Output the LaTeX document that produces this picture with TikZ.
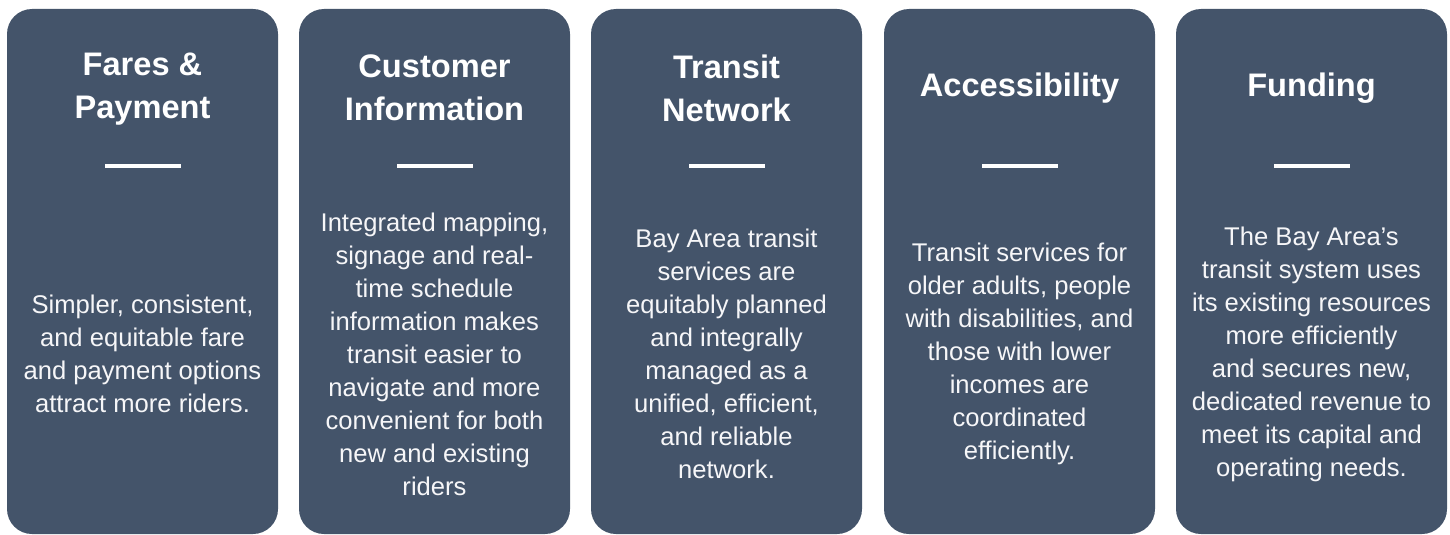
\documentclass[tikz,border=0pt]{standalone}
\usepackage{fontspec}
\setmainfont{Liberation Sans}
\usepackage{tikz}
\definecolor{slate}{HTML}{44546A}

\begin{document}
\begin{tikzpicture}[x=0.5pt,y=-0.5pt]
            \tikzstyle{card}=[fill=slate,rounded corners=12.5pt,minimum width=135.5pt,minimum height=262.5pt,inner sep=0pt]
            \tikzstyle{heading}=[text=white,align=center,inner sep=0pt,font=\fontsize{16.3}{21.5}\selectfont\bfseries]
            \tikzstyle{bar}=[fill=white,minimum width=38pt,minimum height=2.3pt,inner sep=0pt]
            \tikzstyle{blurb}=[text=white!95!slate,align=center,inner sep=0pt,font=\fontsize{12.8}{16.5}\selectfont]
            \useasboundingbox (0,0) rectangle (1450,535);
            % five cards
            \node[card] (card1) at (142.5,271.5) {};
            \node[card] (card2) at (434.5,271.5) {};
            \node[card] (card3) at (726.5,271.5) {};
            \node[card] (card4) at (1019.5,271.5) {};
            \node[card] (card5) at (1311.5,271.5) {};
            % headings
            \node[heading] (head1) at (142.5,89) {Fares \&\\Payment};
            \node[heading] (head2) at (434.5,88) {Customer\\Information};
            \node[heading] (head3) at (726.5,88) {Transit\\Network};
            \node[heading] (head4) at (1019.5,88) {Accessibility};
            \node[heading] (head5) at (1311.5,88) {Funding};
            % white rules
            \node[bar] (bar1) at (142.5,166) {};
            \node[bar] (bar2) at (434.5,166) {};
            \node[bar] (bar3) at (726.5,166) {};
            \node[bar] (bar4) at (1019.5,166) {};
            \node[bar] (bar5) at (1311.5,166) {};
            % texts
            \node[blurb] (text1) at (142.5,354) {Simpler, consistent,\\and equitable fare\\and payment options\\attract more riders.};
            \node[blurb] (text2) at (434.5,354) {Integrated mapping,\\signage and real-\\time schedule\\information makes\\transit easier to\\navigate and more\\convenient for both\\new and existing\\riders};
            \node[blurb] (text3) at (726.5,354) {Bay Area transit\\services are\\equitably planned\\and integrally\\managed as a\\unified, efficient,\\and reliable\\network.};
            \node[blurb] (text4) at (1019.5,354) {Transit services for\\older adults, people\\with disabilities, and\\those with lower\\incomes are\\coordinated\\efficiently.};
            \node[blurb] (text5) at (1311.5,354) {The Bay Area’s\\transit system uses\\its existing resources\\more efficiently\\and secures new,\\dedicated revenue to\\meet its capital and\\operating needs.};
        \end{tikzpicture}
\end{document}
